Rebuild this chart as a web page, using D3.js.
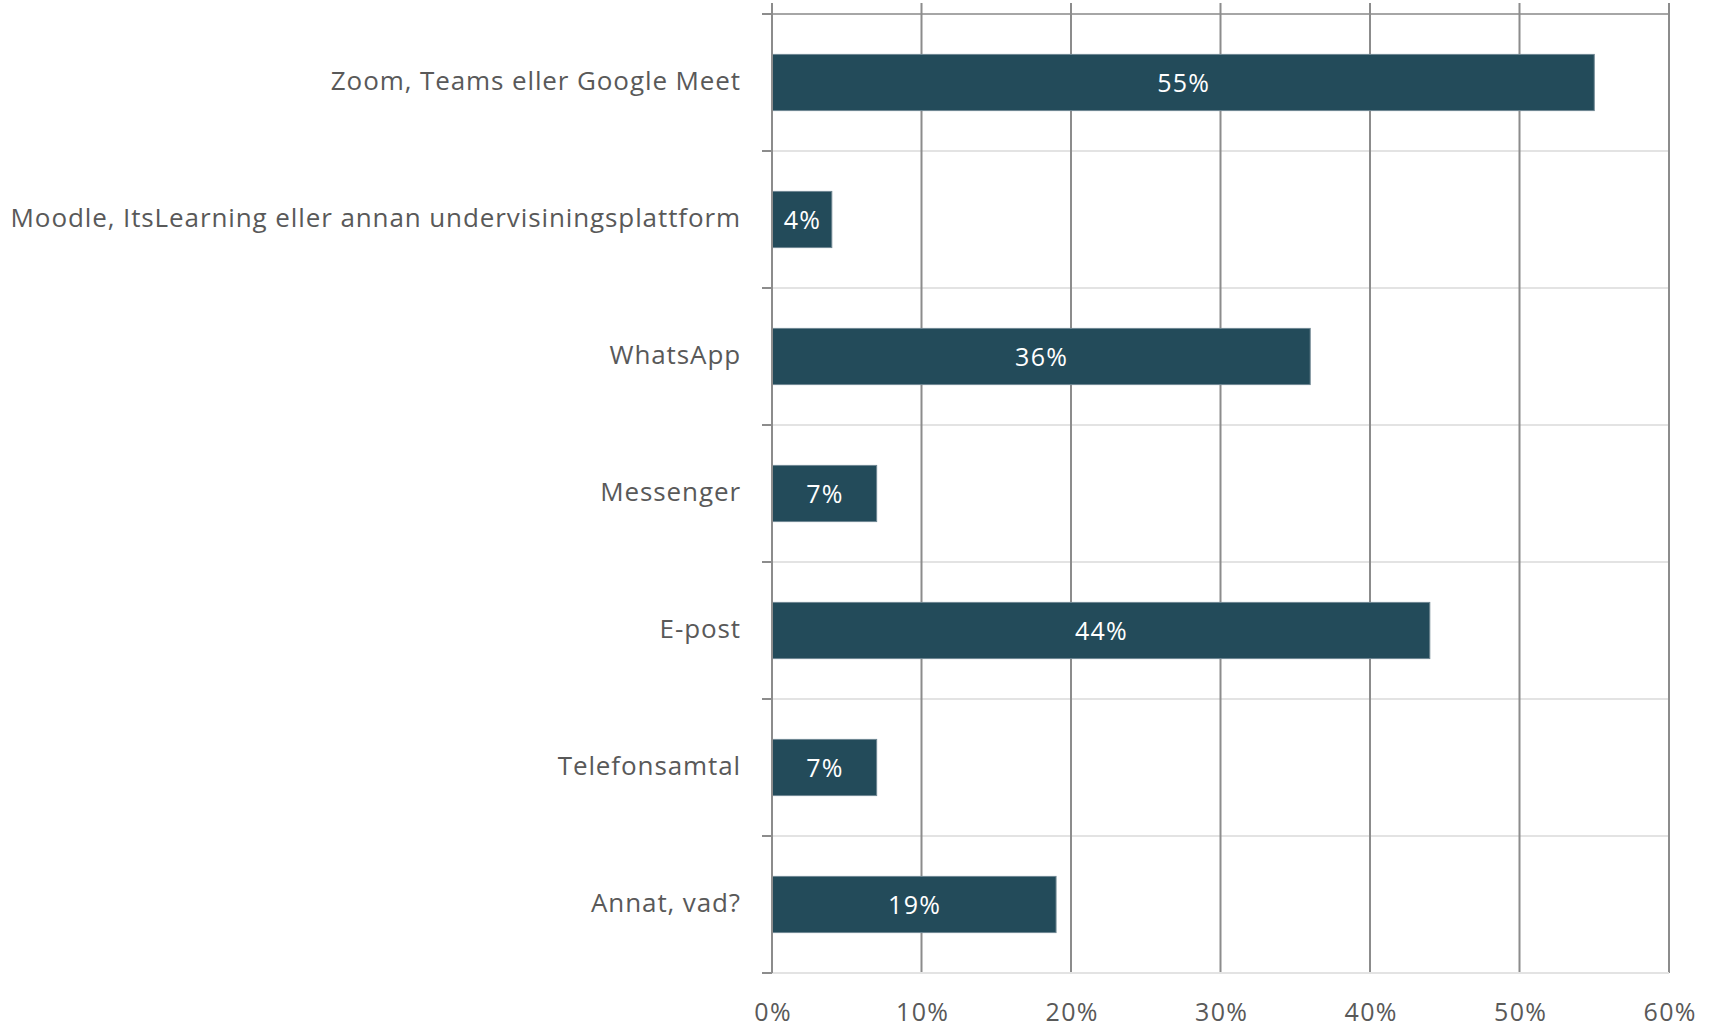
<!DOCTYPE html>
<html>
<head>
<meta charset="utf-8">
<script src="https://cdn.jsdelivr.net/npm/d3@7"></script>
<style>
  html, body { margin: 0; padding: 0; background: #ffffff; }
  svg { display: block; }
</style>
</head>
<body>
<script>
const categories = [
  "Zoom, Teams eller Google Meet",
  "Moodle, ItsLearning eller annan undervisiningsplattform",
  "WhatsApp",
  "Messenger",
  "E-post",
  "Telefonsamtal",
  "Annat, vad?"
];
const values = [0.55, 0.04, 0.36, 0.07, 0.44, 0.07, 0.19];
const tickValues = [0, 0.1, 0.2, 0.3, 0.4, 0.5, 0.6];

(function () {
const W = 1716, H = 1028;
const pL = 772, pR = 1669, pT = 14, pB = 973;
const FONT = "'Open Sans', Lato, sans-serif";

const svg = d3.select("body").append("svg").attr("width", W).attr("height", H);

const x = d3.scaleLinear().domain([0, 0.6]).range([pL, pR]);
const y = d3.scaleBand().domain(categories).range([pT, pB]).paddingInner(0.59).paddingOuter(0.295);
const step = y.step();

// horizontal separators
const bounds = d3.range(categories.length + 1).map(i => pT + i * step);
svg.append("g").selectAll("line").data(bounds).join("line")
  .attr("x1", pL).attr("x2", pR)
  .attr("y1", d => d).attr("y2", d => d)
  .attr("stroke", (d, i) => i === 0 ? "#a6a6a6" : "#e3e3e3")
  .attr("stroke-width", 2);

// vertical gridlines
svg.append("g").selectAll("line").data(tickValues).join("line")
  .attr("x1", d => x(d)).attr("x2", d => x(d))
  .attr("y1", 3).attr("y2", pB)
  .attr("stroke", "#8c8c8c")
  .attr("stroke-width", 2);

// y-axis ticks on left
svg.append("g").selectAll("line").data(bounds).join("line")
  .attr("x1", pL - 10).attr("x2", pL)
  .attr("y1", d => d).attr("y2", d => d)
  .attr("stroke", "#8c8c8c")
  .attr("stroke-width", 2);

// bars
svg.append("g").selectAll("rect").data(categories).join("rect")
  .attr("x", x(0))
  .attr("y", d => y(d))
  .attr("width", (d, i) => x(values[i]) - x(0))
  .attr("height", y.bandwidth())
  .attr("fill", "#234b5a")
  .attr("stroke", "#6f8792")
  .attr("stroke-width", 1);

// value labels
svg.append("g").selectAll("text").data(categories).join("text")
  .attr("x", (d, i) => (x(0) + x(values[i])) / 2 + 0.6)
  .attr("y", d => y(d) + y.bandwidth() / 2)
  .attr("dy", "0.36em")
  .attr("text-anchor", "middle")
  .attr("fill", "#ffffff")
  .attr("font-family", FONT)
  .attr("font-size", 25)
  .attr("letter-spacing", 1.3)
  .text((d, i) => d3.format(".0%")(values[i]));

// category labels
svg.append("g").selectAll("text").data(categories).join("text")
  .attr("x", pL - 31)
  .attr("y", d => y(d) + y.bandwidth() / 2)
  .attr("dy", "0.3em")
  .attr("text-anchor", "end")
  .attr("fill", "#595959")
  .attr("font-family", FONT)
  .attr("font-size", 26)
  .attr("letter-spacing", 0.9)
  .text(d => d);

// x axis
const xAxis = d3.axisBottom(x).tickValues(tickValues).tickFormat(d3.format(".0%")).tickSize(0).tickPadding(0);
const gx = svg.append("g").attr("transform", `translate(0,${pB})`).call(xAxis);
gx.select(".domain").remove();
gx.selectAll("text")
  .attr("x", 0.6)
  .attr("y", 39)
  .attr("dy", "0.36em")
  .attr("fill", "#595959")
  .attr("font-family", FONT)
  .attr("font-size", 25)
  .attr("letter-spacing", 1.3);

// bottom axis line
svg.append("line")
  .attr("x1", pL).attr("x2", pR)
  .attr("y1", pB).attr("y2", pB)
  .attr("stroke", "#e3e3e3").attr("stroke-width", 2);
// left axis line
svg.append("line")
  .attr("x1", pL).attr("x2", pL)
  .attr("y1", 3).attr("y2", pB)
  .attr("stroke", "#8c8c8c").attr("stroke-width", 2);
})();
</script>
</body>
</html>
